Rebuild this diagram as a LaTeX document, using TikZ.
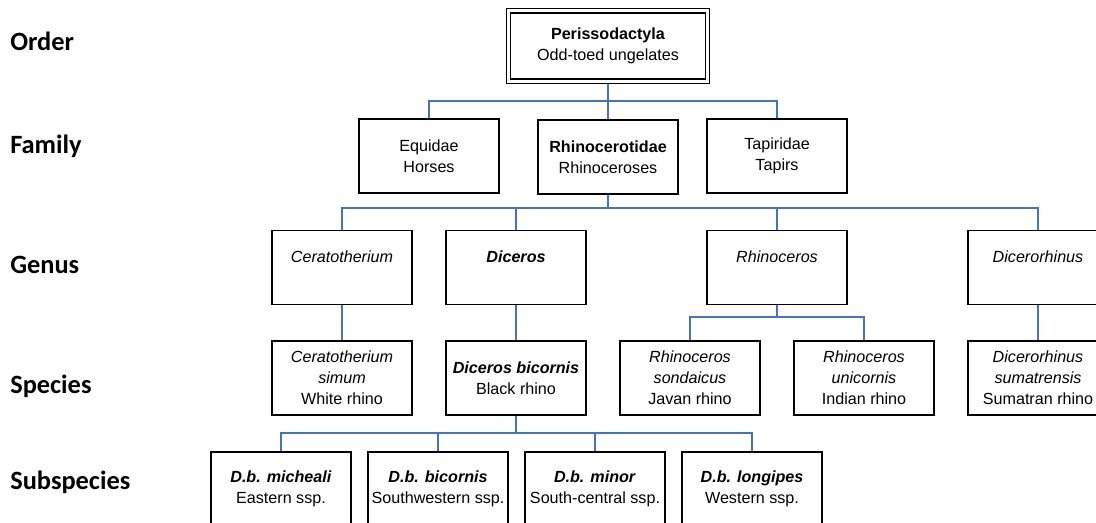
\documentclass[tikz,border=0pt]{standalone}
\usepackage{fontspec}
\setmainfont{Liberation Sans}
\newfontfamily\rankfont{Carlito}
\definecolor{linkblue}{RGB}{68,114,196}

\begin{document}
\begin{tikzpicture}[x=0.75pt, y=-0.75pt,
    taxon/.style={rectangle, draw, line width=0.8pt, minimum width=105pt, minimum height=55.5pt, align=center, inner sep=1pt, font=\fontsize{12.1pt}{15.75pt}\selectfont},
    ordbox/.style={taxon, minimum width=146pt, minimum height=49.5pt},
    rank/.style={anchor=base west, inner sep=0pt, font=\rankfont\bfseries\fontsize{19.8pt}{24pt}\selectfont},
    link/.style={draw=linkblue, line width=0.8pt}
]
\useasboundingbox (0,0) rectangle (1096,522);

% Rank labels
\node[rank] (lorder) at (10,50) {Order};
\node[rank] (lfamily) at (10,153) {Family};
\node[rank] (lgenus) at (10,273) {Genus};
\node[rank] (lspecies) at (10,393) {Species};
\node[rank] (lsubspecies) at (10,489) {Subspecies};

% Order (double frame)
\node[ordbox] (perisso) at (608,46) {\textbf{Perissodactyla}\\Odd-toed ungelates};
\draw[line width=0.8pt] ([shift={(-3pt,-3pt)}]perisso.south west) rectangle ([shift={(3pt,3pt)}]perisso.north east);

% Families
\node[taxon] (equidae) at (429,156) {Equidae\\Horses};
\node[taxon] (rhinocerotidae) at (608,157) {\textbf{Rhinocerotidae}\\Rhinoceroses};
\node[taxon] (tapiridae) at (777,156) {Tapiridae\\Tapirs};

% Genera
\node[taxon] (ceratotherium) at (342,267.5) {\textit{Ceratotherium}\\~};
\node[taxon] (diceros) at (516,267.5) {\textbf{\textit{Diceros}}\\~};
\node[taxon] (rhinoceros) at (777,267.5) {\textit{Rhinoceros}\\~};
\node[taxon] (dicerorhinus) at (1038,267.5) {\textit{Dicerorhinus}\\~};

% Species
\node[taxon] (simum) at (342,378) {\textit{Ceratotherium}\\\textit{simum}\\White rhino};
\node[taxon] (bicornis) at (516,378) {\textbf{\textit{Diceros bicornis}}\\Black rhino};
\node[taxon] (sondaicus) at (690,378) {\textit{Rhinoceros}\\\textit{sondaicus}\\Javan rhino};
\node[taxon] (unicornis) at (864,378) {\textit{Rhinoceros}\\\textit{unicornis}\\Indian rhino};
\node[taxon] (sumatrensis) at (1038,378) {\textit{Dicerorhinus}\\\textit{sumatrensis}\\Sumatran rhino};

% Subspecies
\node[taxon] (micheali) at (281,489) {\textbf{\textit{D.b. micheali}}\\Eastern ssp.};
\node[taxon] (sspbicornis) at (438,489) {\textbf{\textit{D.b. bicornis}}\\Southwestern ssp.};
\node[taxon] (minor) at (595,489) {\textbf{\textit{D.b. minor}}\\South-central ssp.};
\node[taxon] (longipes) at (752,489) {\textbf{\textit{D.b. longipes}}\\Western ssp.};

% Junctions
\coordinate (famjoin) at (608,101);
\coordinate (genjoin) at (608,208);
\coordinate (rhijoin) at (777,317);
\coordinate (sspjoin) at (516,433);

% Connectors
\draw[link] (perisso.south) ++(0,4) -- (famjoin);
\draw[link] (equidae.north) |- (famjoin) -| (tapiridae.north);
\draw[link] (famjoin) -- (rhinocerotidae.north);

\draw[link] (rhinocerotidae.south) -- (genjoin);
\draw[link] (ceratotherium.north) |- (genjoin) -| (dicerorhinus.north);
\draw[link] (diceros.north) -- (diceros.north |- genjoin);
\draw[link] (rhinoceros.north) -- (rhinoceros.north |- genjoin);

\draw[link] (ceratotherium) -- (simum);
\draw[link] (diceros) -- (bicornis);
\draw[link] (rhinoceros.south) -- (rhijoin);
\draw[link] (sondaicus.north) |- (rhijoin) -| (unicornis.north);
\draw[link] (dicerorhinus) -- (sumatrensis);

\draw[link] (bicornis.south) -- (sspjoin);
\draw[link] (micheali.north) |- (sspjoin) -| (longipes.north);
\draw[link] (sspbicornis.north) -- (sspbicornis.north |- sspjoin);
\draw[link] (minor.north) -- (minor.north |- sspjoin);

\end{tikzpicture}
\end{document}
